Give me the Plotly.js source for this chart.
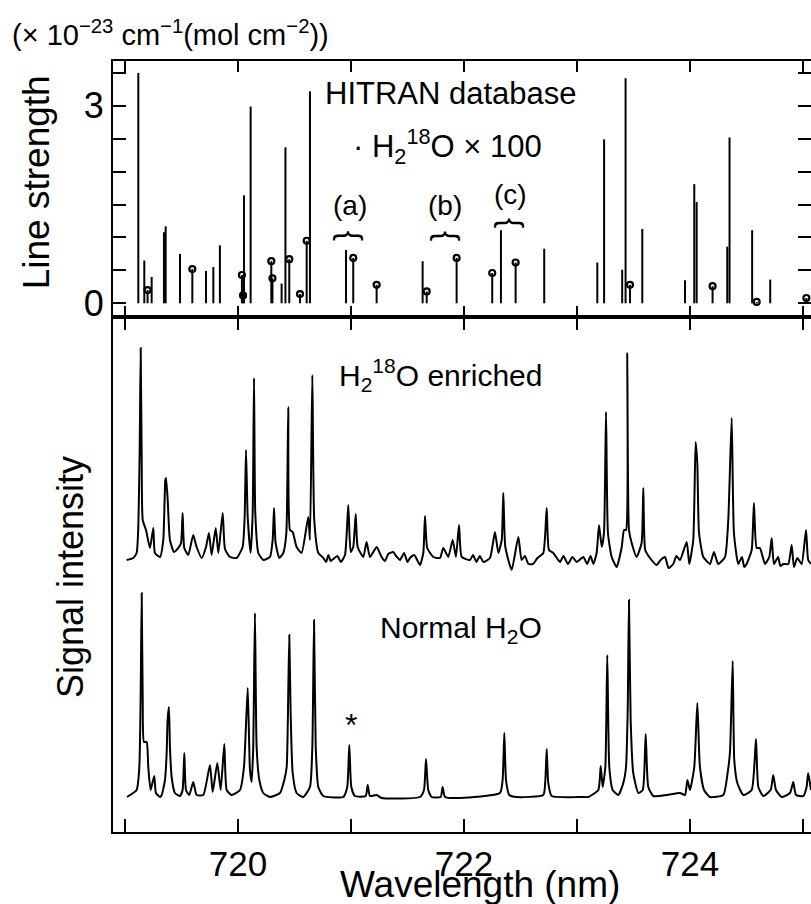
<!DOCTYPE html>
<html>
<head>
<meta charset="utf-8">
<script src="https://cdn.plot.ly/plotly-3.0.1.min.js"></script>
<style>html,body{margin:0;padding:0;background:#fff;}#chart{width:811px;height:904px;}</style>
</head>
<body>
<div id="chart"></div>
<script>
// ---- Data ----
// HITRAN stick lines (normal H2O), wavelength nm / line strength (x1e-23)
var h2oLineX = [719.118,719.171,719.236,719.345,719.360,719.487,719.717,719.782,719.840,720.053,720.112,720.386,720.420,720.637,720.956,721.634,722.327,722.710,723.180,723.240,723.400,723.430,723.578,723.956,724.038,724.059,724.330,724.350,724.550,724.710];
var h2oLineS = [3.50,0.65,0.40,1.08,1.17,0.75,0.49,0.55,0.88,1.64,2.99,0.30,2.37,3.22,0.81,0.64,1.11,0.83,0.62,2.49,0.51,3.42,1.13,0.35,1.81,1.54,0.86,2.52,1.11,0.36];
// H2-18O lines (x100)
var h218oLineX = [719.200,719.596,720.035,720.045,720.295,720.305,720.454,720.549,720.608,721.020,721.227,721.670,721.935,722.250,722.457,723.469,724.200,724.590,725.030];
var h218oLineS = [0.20,0.52,0.43,0.12,0.64,0.38,0.67,0.14,0.95,0.69,0.28,0.18,0.69,0.46,0.62,0.28,0.26,0.02,0.08];

// Measured spectra (arbitrary signal units)
var enrichedX = [719.015,719.073,719.103,719.118,719.130,719.139,719.148,719.157,719.186,719.221,719.251,719.265,719.310,719.339,719.357,719.363,719.378,719.398,719.434,719.472,719.496,719.510,719.525,719.560,719.604,719.634,719.679,719.717,719.743,719.767,719.803,719.826,719.865,719.885,719.929,719.988,720.041,720.059,720.071,720.086,720.112,720.130,720.142,720.153,720.180,720.224,720.283,720.307,720.319,720.333,720.366,720.401,720.428,720.445,720.460,720.484,720.519,720.563,720.622,720.637,720.658,720.675,720.711,720.755,720.844,720.947,720.976,720.997,721.020,721.042,721.059,721.109,721.138,721.168,721.227,721.271,721.374,721.434,721.522,721.611,721.640,721.655,721.675,721.729,721.788,721.817,721.861,721.900,721.929,721.956,721.980,722.053,722.171,722.230,722.274,722.304,722.334,722.348,722.366,722.422,722.481,722.510,722.613,722.702,722.732,722.752,722.790,722.850,722.997,723.056,723.145,723.174,723.195,723.219,723.239,723.257,723.274,723.307,723.351,723.396,723.416,723.434,723.445,723.460,723.484,723.528,723.572,723.587,723.604,723.646,723.705,723.779,723.852,723.912,723.971,723.994,724.029,724.050,724.065,724.080,724.118,724.177,724.212,724.250,724.310,724.339,724.369,724.389,724.427,724.501,724.546,724.566,724.590,724.619,724.664,724.702,724.723,724.743,724.826,724.870,724.900,724.920,724.988,725.027,725.046,725.071];
var enrichedY = [272,274,279,305,382,484,372,312,302,284,304,279,275,292,352,354,332,292,280,284,289,319,284,277,297,285,274,285,299,277,304,279,319,283,275,274,285,315,382,315,279,319,454,319,279,272,275,292,324,289,274,279,299,425,302,300,285,279,315,292,457,312,279,274,273,277,327,280,285,318,285,275,290,275,285,275,280,272,274,267,279,316,284,275,274,284,275,292,275,307,275,272,270,274,300,279,292,339,285,262,295,272,268,279,324,282,279,270,270,275,268,279,307,285,299,420,299,275,265,285,302,302,479,302,289,275,289,344,282,274,267,275,268,272,290,268,292,390,368,299,275,268,280,268,275,312,414,299,268,268,282,329,284,284,268,275,294,268,268,268,287,265,268,302,272,268];
// baseline noise wiggles of the enriched trace
var enrichedNoiseX = [720.780,720.800,720.820,720.880,720.910,721.300,721.330,721.400,721.470,721.500,721.560,721.590,722.080,722.110,722.140,722.540,722.570,722.650,722.880,722.920,722.960,723.090,723.120,723.740,723.810,723.880,724.460,724.480,724.780,724.800,724.950];
var enrichedNoiseY = [270,277,271,276,270,271,278,276,279,270,277,271,277,270,276,276,268,274,276,268,275,268,276,272,264,276,275,265,275,266,274];

var normalX = [719.018,719.103,719.127,719.139,719.148,719.157,719.168,719.192,719.206,719.227,719.259,719.274,719.310,719.325,719.354,719.369,719.377,719.389,719.398,719.413,719.442,719.487,719.510,719.525,719.540,719.569,719.604,719.634,719.693,719.752,719.776,719.817,719.847,719.879,719.900,719.944,720.018,720.053,720.086,720.106,720.121,720.135,720.150,720.165,720.189,720.224,720.283,720.372,720.410,720.431,720.445,720.454,720.466,720.484,720.519,720.578,720.637,720.658,720.673,720.688,720.711,720.755,720.932,720.967,720.985,721.003,721.035,721.130,721.148,721.168,721.227,721.271,721.611,721.646,721.664,721.684,721.714,721.794,721.811,721.832,721.965,722.319,722.342,722.357,722.372,722.401,722.466,722.702,722.720,722.732,722.746,722.776,723.056,723.100,723.189,723.210,723.227,723.251,723.268,723.286,723.316,723.366,723.410,723.434,723.449,723.460,723.475,723.498,723.543,723.582,723.608,723.631,723.675,723.794,723.912,723.956,723.977,724.000,724.038,724.065,724.088,724.124,724.177,724.295,724.333,724.354,724.378,724.392,724.419,724.472,724.546,724.584,724.605,724.649,724.714,724.737,724.761,724.811,724.885,724.914,724.938,725.003,725.032,725.046,725.071];
var normalY = [35,42,65,139,239,132,90,90,65,42,56,39,35,37,52,79,112,125,85,55,39,36,42,79,42,37,50,37,37,67,40,69,42,88,42,37,42,65,144,62,50,85,219,85,52,39,35,39,52,65,139,197,119,59,39,35,45,85,212,85,45,36,35,45,87,45,36,36,47,36,37,34,35,42,73,42,35,35,45,35,34,39,52,99,52,37,35,37,52,83,49,36,35,35,42,66,45,65,177,65,42,37,49,65,122,232,112,59,39,42,98,45,36,37,39,37,52,42,65,129,65,42,35,37,59,80,171,72,49,37,42,93,45,36,42,57,42,35,39,50,37,36,45,59,42];

var xTicks = [719,720,721,722,723,724,725];
var xTickText = ['','720','','722','','724',''];
var yTicks = [0,0.5,1,1.5,2,2.5,3,3.5];
var yTickText = ['0','','','','','','3',''];

// ---- Build traces ----
function sticks(xs, ss){
  var x=[], y=[];
  for (var i=0;i<xs.length;i++){ x.push(xs[i],xs[i],null); y.push(0,ss[i],null); }
  return {x:x,y:y};
}
function mergeSorted(xa,ya,xb,yb){
  var pts=[],i;
  for(i=0;i<xa.length;i++) pts.push([xa[i],ya[i]]);
  for(i=0;i<xb.length;i++) pts.push([xb[i],yb[i]]);
  pts.sort(function(a,b){return a[0]-b[0];});
  return {x:pts.map(function(p){return p[0];}),y:pts.map(function(p){return p[1];})};
}
var s1 = sticks(h2oLineX,h2oLineS);
var s2 = sticks(h218oLineX,h218oLineS);
var enr = mergeSorted(enrichedX,enrichedY,enrichedNoiseX,enrichedNoiseY);
var black='#000';
var FONT='Liberation Sans, Arial, Helvetica, sans-serif';

var traces = [
  {x:s1.x,y:s1.y,xaxis:'x2',yaxis:'y',mode:'lines',line:{color:black,width:2},hoverinfo:'skip'},
  {x:s2.x,y:s2.y,xaxis:'x2',yaxis:'y',mode:'lines',line:{color:black,width:2},hoverinfo:'skip'},
  {x:h218oLineX,y:h218oLineS,xaxis:'x2',yaxis:'y',mode:'markers',marker:{symbol:'circle-open',size:6,color:black,line:{color:black,width:2.2}},hoverinfo:'skip'},
  {x:enr.x,y:enr.y,xaxis:'x',yaxis:'y2',mode:'lines',line:{color:black,width:2,shape:'spline',smoothing:0.5}},
  {x:normalX,y:normalY,xaxis:'x',yaxis:'y2',mode:'lines',line:{color:black,width:2,shape:'spline',smoothing:0.5}}
];

var xr = [718.894, 725.071];
function ann(text,x,y,size,opts){
  var a = {text:text,x:x,y:y,xref:'paper',yref:'paper',showarrow:false,font:{size:size,color:black,family:FONT},xanchor:'center',yanchor:'middle'};
  if(opts){for(var k in opts){a[k]=opts[k];}}
  return a;
}

var layout = {
  width:811,height:904,
  margin:{l:113,r:0,t:61,b:72,pad:0},
  paper_bgcolor:'#fff',plot_bgcolor:'#fff',
  showlegend:false,
  font:{family:FONT,color:black,size:36},
  xaxis:{domain:[0,1],anchor:'y2',range:xr,tickvals:xTicks,ticktext:xTickText,ticks:'inside',ticklen:13,tickwidth:2,tickcolor:black,
         showline:true,linewidth:2,linecolor:black,mirror:'ticks',showgrid:false,zeroline:false,tickfont:{size:35,family:FONT,color:black}},
  xaxis2:{domain:[0,1],anchor:'y',matches:'x',range:xr,tickvals:xTicks,ticks:'inside',ticklen:11,tickwidth:2,tickcolor:black,showticklabels:false,
          showline:true,linewidth:2,linecolor:black,mirror:'ticks',showgrid:false,zeroline:false},
  yaxis:{domain:[0.668,1],anchor:'x2',range:[-0.208,3.682],tickvals:yTicks,ticktext:yTickText,ticks:'inside',ticklen:13,tickwidth:2,tickcolor:black,
         showline:true,linewidth:2,linecolor:black,mirror:'ticks',showgrid:false,zeroline:false,tickfont:{size:36,family:FONT,color:black}},
  yaxis2:{domain:[0,0.668],anchor:'x',range:[0,515],showticklabels:false,ticks:'',showline:true,linewidth:2,linecolor:black,showgrid:false,zeroline:false},
  annotations:[
    ann('(× 10<sup>−23</sup> cm<sup>−1</sup>(mol cm<sup>−2</sup>))',-0.1476,1.0363,29,{xanchor:'left'}),
    ann('Line strength',-0.110,0.843,37,{textangle:-90}),
    ann('Signal intensity',-0.0616,0.3307,36,{textangle:-90}),
    ann('Wavelength (nm)',0.5258,-0.068,37),
    ann('HITRAN database',0.4842,0.9572,31),
    ann('· H<sub>2</sub><sup>18</sup>O × 100',0.341,0.8885,31,{xanchor:'left'}),
    ann('(a)',0.3395,0.8132,28),
    ann('(b)',0.4756,0.8132,28),
    ann('(c)',0.5702,0.8262,28),
    ann('{',0.3415,0.7730,31,{textangle:90}),
    ann('{',0.480,0.7730,31,{textangle:90}),
    ann('{',0.5702,0.7899,31,{textangle:90}),
    ann('H<sub>2</sub><sup>18</sup>O enriched',0.4685,0.5927,30),
    ann('Normal H<sub>2</sub>O',0.4986,0.262,30),
    ann('*',0.341,0.1390,32)
  ]
};

Plotly.newPlot('chart',traces,layout,{staticPlot:true,displayModeBar:false});
</script>
</body>
</html>
